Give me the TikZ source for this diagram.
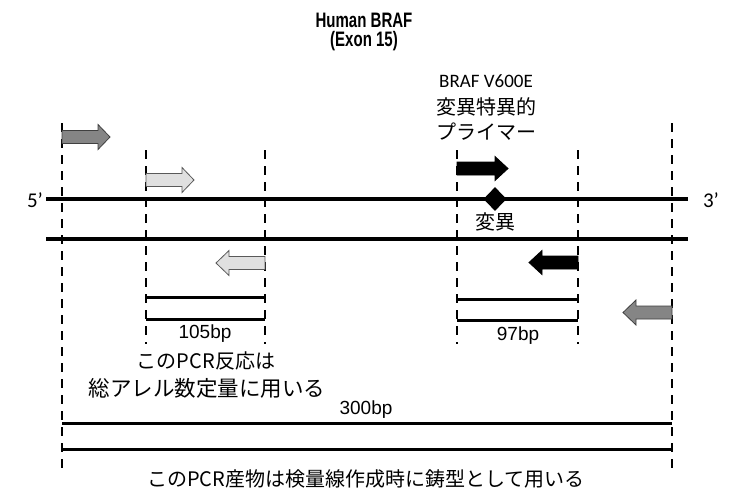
\documentclass[tikz,border=0pt]{standalone}
\usepackage{fontspec}
\usepackage{graphicx}
\usetikzlibrary{shapes.geometric}
\setmainfont{Liberation Sans}
\newfontfamily\jpfont{Noto Sans CJK JP}
\newfontfamily\calfont{Carlito}
\newcommand{\tallt}[1]{\scalebox{0.97}[1.35]{#1}}
\begin{document}
\begin{tikzpicture}[x=1pt,y=-1pt,
  guide/.style={line width=1.8pt,dash pattern=on 9pt off 7pt},
  strand/.style={line width=4.5pt},
  bar/.style={line width=3pt},
  darkarrow/.style={fill=black!48,draw=black!75,line width=0.8pt},
  lightarrow/.style={fill=black!12,draw=black!65,line width=0.8pt},
  blackarrow/.style={fill=black,draw=black,line width=0.8pt},
  titletext/.style={inner sep=0pt,font=\fontsize{15.5}{18}\selectfont\bfseries},
  jptext/.style={inner sep=0pt,font=\fontsize{20}{24}\selectfont\jpfont},
  caltext/.style={inner sep=0pt,font=\fontsize{19}{22}\selectfont\calfont},
  bptext/.style={inner sep=0pt,font=\fontsize{19}{22}\selectfont}]
\useasboundingbox (0,0) rectangle (730,491);
\fill[white] (0,0) rectangle (730,491);
% guide coordinates
\coordinate (g1t) at (62,123);  \coordinate (g1b) at (62,472);
\coordinate (g2t) at (146,150); \coordinate (g2b) at (146,344);
\coordinate (g3t) at (265,150); \coordinate (g3b) at (265,344);
\coordinate (g4t) at (457,150); \coordinate (g4b) at (457,344);
\coordinate (g5t) at (578,150); \coordinate (g5b) at (578,344);
\coordinate (g6t) at (672,123); \coordinate (g6b) at (672,472);
\foreach \a/\b in {g1t/g1b,g2t/g2b,g3t/g3b,g4t/g4b,g5t/g5b,g6t/g6b}
  \draw[guide] (\a) -- (\b);
% strands
\coordinate (s1l) at (46,199);  \coordinate (s1r) at (688,199);
\coordinate (s2l) at (46,239);  \coordinate (s2r) at (688,239);
\draw[strand] (s1l) -- (s1r);
\draw[strand] (s2l) -- (s2r);
% product bars
\coordinate (a1l) at (146,297); \coordinate (a1r) at (265,297);
\coordinate (a2l) at (146,319); \coordinate (a2r) at (265,319);
\coordinate (b1l) at (457,299); \coordinate (b1r) at (578,299);
\coordinate (b2l) at (457,320); \coordinate (b2r) at (578,320);
\coordinate (c1l) at (62,423);  \coordinate (c1r) at (672,423);
\coordinate (c2l) at (62,449);  \coordinate (c2r) at (672,449);
\foreach \a/\b in {a1l/a1r,a2l/a2r,b1l/b1r,b2l/b2r,c1l/c1r,c2l/c2r}
  \draw[bar] (\a) -- (\b);
% primers (block arrows)
\draw[darkarrow] (62,130.5) -- (98,130.5) -- (98,124.5) -- (110,137) -- (98,149.5) -- (98,143.5) -- (62,143.5) -- cycle;
\draw[lightarrow] (146,173.5) -- (182,173.5) -- (182,167.5) -- (194,180) -- (182,192.5) -- (182,186.5) -- (146,186.5) -- cycle;
\draw[blackarrow] (457,162) -- (495,162) -- (495,156.5) -- (508,168.5) -- (495,180.5) -- (495,175) -- (457,175) -- cycle;
\draw[lightarrow] (265,256.5) -- (229,256.5) -- (229,250.5) -- (216,263) -- (229,275.5) -- (229,269.5) -- (265,269.5) -- cycle;
\draw[blackarrow] (578,256) -- (542,256) -- (542,250.5) -- (529,262.5) -- (542,274.5) -- (542,269) -- (578,269) -- cycle;
\draw[darkarrow] (672,306) -- (636,306) -- (636,300) -- (623,312.5) -- (636,325) -- (636,319) -- (672,319) -- cycle;
% mutation
\node[fill=black,diamond,inner sep=0pt,minimum width=23pt,minimum height=24pt] (mut) at (495,199) {};
% texts
\node[titletext] (t1) at (364,20) {\tallt{Human BRAF}};
\node[titletext] (t2) at (364,41) {\tallt{(Exon 15)}};
\node[caltext] (p1) at (486,81) {BRAF V600E};
\node[jptext] (p2) at (486,107) {変異特異的};
\node[jptext] (p3) at (486,132) {プライマー};
\node[jptext] (m1) at (495,222) {変異};
\node[caltext,font=\fontsize{21}{24}\selectfont\calfont] (e5) at (35,200) {5’};
\node[caltext,font=\fontsize{21}{24}\selectfont\calfont] (e3) at (711,200) {3’};
\node[bptext] (l105) at (205,334) {105bp};
\node[bptext] (l97) at (518,336) {97bp};
\node[bptext] (l300) at (366,410) {300bp};
\node[jptext] (n1) at (206,361) {このPCR反応は};
\node[jptext,font=\fontsize{21.5}{24}\selectfont\jpfont] (n2) at (207,388) {総アレル数定量に用いる};
\node[jptext] (n3) at (366,479) {このPCR産物は検量線作成時に鋳型として用いる};
\end{tikzpicture}
\end{document}
